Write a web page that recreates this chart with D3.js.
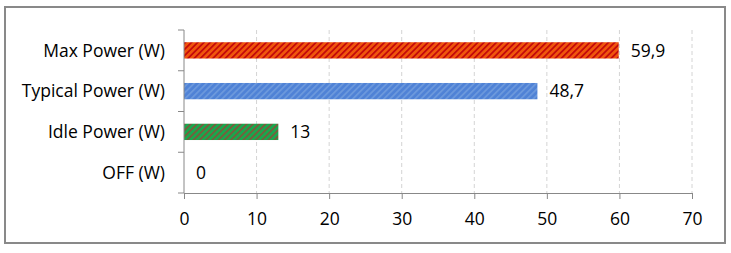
<!DOCTYPE html>
<html>
<head>
<meta charset="utf-8">
<script src="https://cdn.jsdelivr.net/npm/d3@7"></script>
<style>
  body { margin: 0; background: #fff; }
  svg { display: block; }
</style>
</head>
<body>
<svg class="chart"></svg>
<script>
// Power consumption bar chart

var categories = ["Max Power (W)", "Typical Power (W)", "Idle Power (W)", "OFF (W)"];
var values = [59.9, 48.7, 13, 0];
var xTicks = [0, 10, 20, 30, 40, 50, 60, 70];

var fmt = function(v) { return String(v).replace(".", ","); };

var W = 731, H = 253;
var margin = { top: 30, right: 39, bottom: 60, left: 184 };
var width = W - margin.left - margin.right;
var height = H - margin.top - margin.bottom;
var font = "'Open Sans', sans-serif";
var fsize = "17.5px";

var svg = d3.select(".chart")
    .attr("width", W)
    .attr("height", H);

// Patterns for the bars (fill + diagonal stripes)
var defs = svg.append("defs");
var pats = [
    { id: "p0", bg: "#f0560c", fg: "#c40a0a" },
    { id: "p1", bg: "#4f82d6", fg: "#6b98dc" },
    { id: "p2", bg: "#17a84e", fg: "#7a5c3c" },
    { id: "p3", bg: "#999", fg: "#666" }
];
pats.forEach(function(p) {
    var pat = defs.append("pattern")
        .attr("id", p.id)
        .attr("patternUnits", "userSpaceOnUse")
        .attr("width", 4.4)
        .attr("height", 4.4)
        .attr("patternTransform", "rotate(45)");
    pat.append("rect").attr("width", 4.4).attr("height", 4.4).attr("fill", p.bg);
    pat.append("rect").attr("width", 1.8).attr("height", 4.4).attr("fill", p.fg);
});

// Outer border
svg.append("rect")
    .attr("x", 5).attr("y", 7)
    .attr("width", 720).attr("height", 236)
    .attr("fill", "none")
    .attr("stroke", "#898989")
    .attr("stroke-width", 2);

var chart = svg.append("g")
    .attr("transform", "translate(" + margin.left + "," + margin.top + ")");

var x = d3.scaleLinear()
    .domain([0, 70])
    .range([0, width]);

var y = d3.scaleBand()
    .domain(categories)
    .range([0, height])
    .paddingInner(0.6)
    .paddingOuter(0.3);

// Gridlines
chart.selectAll(".grid")
    .data(xTicks.slice(1))
    .enter().append("line")
    .attr("class", "grid")
    .attr("x1", function(d) { return x(d); })
    .attr("x2", function(d) { return x(d); })
    .attr("y1", 0)
    .attr("y2", height)
    .attr("stroke", "#d4d4d4")
    .attr("stroke-dasharray", "4,3");

// Bars
chart.selectAll(".bar")
    .data(values)
    .enter().append("rect")
    .attr("class", "bar")
    .attr("x", x(0))
    .attr("y", function(d, i) { return y(categories[i]); })
    .attr("width", function(d) { return x(d) - x(0); })
    .attr("height", y.bandwidth())
    .attr("fill", function(d, i) { return "url(#p" + i + ")"; });

// Value labels
chart.selectAll(".val")
    .data(values)
    .enter().append("text")
    .attr("class", "val")
    .attr("x", function(d) { return x(d) + 12; })
    .attr("y", function(d, i) { return y(categories[i]) + y.bandwidth() / 2; })
    .attr("dy", "0.35em")
    .style("font-family", font)
    .style("font-size", fsize)
    .style("fill", "#000")
    .text(function(d) { return fmt(d); });

// Y axis (band boundaries as ticks)
var yAxisG = chart.append("g").attr("class", "y axis");
yAxisG.append("line")
    .attr("x1", 0).attr("x2", 0)
    .attr("y1", 0).attr("y2", height)
    .attr("stroke", "#888");
var bounds = d3.range(categories.length + 1).map(function(i) { return i * height / categories.length; });
yAxisG.selectAll(".ytick")
    .data(bounds)
    .enter().append("line")
    .attr("x1", -6).attr("x2", 0)
    .attr("y1", function(d) { return d; })
    .attr("y2", function(d) { return d; })
    .attr("stroke", "#888");
yAxisG.selectAll(".ylab")
    .data(categories)
    .enter().append("text")
    .attr("x", -19)
    .attr("y", function(d) { return y(d) + y.bandwidth() / 2; })
    .attr("dy", "0.35em")
    .attr("text-anchor", "end")
    .style("font-family", font)
    .style("font-size", fsize)
    .style("fill", "#000")
    .text(function(d) { return d; });

// X axis
var xAxis = d3.axisBottom(x)
    .tickValues(xTicks)
    .tickSize(6)
    .tickSizeOuter(0);
var xAxisG = chart.append("g")
    .attr("class", "x axis")
    .attr("transform", "translate(0," + height + ")")
    .call(xAxis);
xAxisG.select(".domain").attr("stroke", "#888");
xAxisG.selectAll(".tick line").attr("stroke", "#888");
xAxisG.selectAll(".tick text")
    .attr("y", 20)
    .style("font-family", font)
    .style("font-size", fsize)
    .style("fill", "#000");
</script>
</body>
</html>
